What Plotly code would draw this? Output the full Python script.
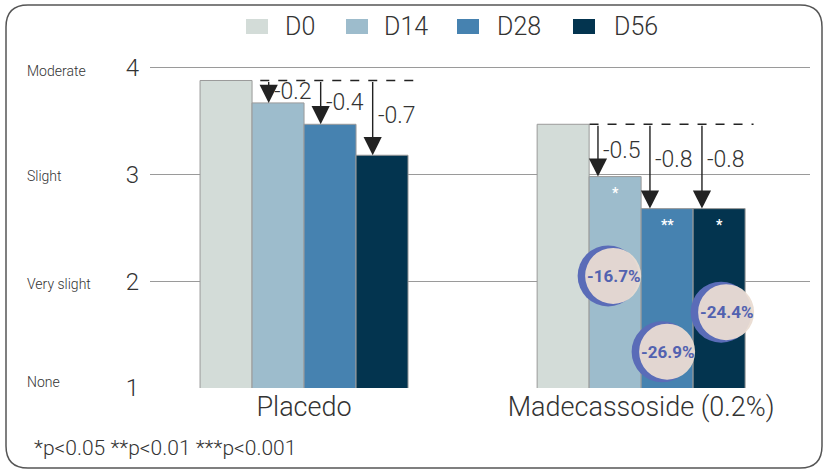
import plotly.graph_objects as go

# data
groups = ["Placedo", "Madecassoside (0.2%)"]
visits = ["D0", "D14", "D28", "D56"]
placedo = [3.88, 3.67, 3.47, 3.18]
madecassoside = [3.47, 2.98, 2.68, 2.68]
sig_marks = [["", "", "", ""], ["", "*", "**", "*"]]
pct_change = ["-16.7%", "-26.9%", "-24.4%"]
y_ticks = [1, 2, 3, 4]
scale_labels = ["None", "Very slight", "Slight", "Moderate"]

colors = ["#d3dcd8", "#9dbccc", "#4682b0", "#03344f"]
ink = "#333333"
font = "Roboto"

W, H = 826, 473
L, R, T, B = 150, 16, 57, 85
PW, PH = W - L - R, H - T - B
bargap = 0.383
bw = (1 - bargap) / len(visits)


def px(x):
    return (x - L) / PW


def py(y):
    return (H - B - y) / PH


def centre(g, i):
    return g + (i - (len(visits) - 1) / 2) * bw


series = [placedo, madecassoside]

fig = go.Figure()
for i, v in enumerate(visits):
    fig.add_bar(
        x=groups,
        y=[s[i] for s in series],
        name=v,
        marker=dict(color=colors[i], line=dict(color="#9a9a9a", width=1)),
        showlegend=False,
    )

# dashed baseline + arrows + change labels
arrow_frac = [0.32, 0.17]
for g, s in enumerate(series):
    base = s[0]
    ax_list = [centre(g, i) - bw / 2 + arrow_frac[g] * bw for i in range(1, 4)]
    fig.add_shape(type="line", xref="x", yref="y",
                  x0=ax_list[0] - 0.025, x1=centre(g, 3) + bw / 2 + 0.025,
                  y0=base, y1=base, line=dict(color="#222", width=1.3, dash="dash"))
    for k, i in enumerate(range(1, 4)):
        xa = ax_list[k]
        fig.add_annotation(x=xa, y=s[i], ax=xa, ay=base, xref="x", yref="y",
                           axref="x", ayref="y", text="", showarrow=True,
                           arrowhead=2, arrowsize=2.6, arrowwidth=1.4,
                           arrowcolor="#222")
        d = s[i] - base
        ly = max((base + s[i]) / 2, base - 0.33)
        fig.add_annotation(x=xa, y=ly, xref="x", yref="y", text=f"{d:.1f}",
                           showarrow=False, xanchor="left", xshift=3,
                           font=dict(family=font, size=23, color=ink, weight=300))
        if sig_marks[g][i]:
            fig.add_annotation(x=centre(g, i), y=s[i], xref="x", yref="y",
                               text=sig_marks[g][i], showarrow=False, yshift=-16,
                               font=dict(family=font, size=14, color="white", weight="bold"))

# percentage badges
badge_y = [2.05, 1.34, 1.71]
badge_dx = [-2, 0, 7]
for k, i in enumerate(range(1, 4)):
    cx = centre(1, i)
    dx = badge_dx[k]
    fig.add_shape(type="circle", xref="x", yref="y", xsizemode="pixel", ysizemode="pixel",
                  xanchor=cx, yanchor=badge_y[k],
                  x0=dx - 5 - 30.5, x1=dx - 5 + 30.5, y0=-30.5, y1=30.5,
                  fillcolor="#5a6cb8", line=dict(width=0))
    fig.add_shape(type="circle", xref="x", yref="y", xsizemode="pixel", ysizemode="pixel",
                  xanchor=cx, yanchor=badge_y[k],
                  x0=dx - 28, x1=dx + 28, y0=-28, y1=28,
                  fillcolor="#eadcd2", opacity=0.95, line=dict(width=0))
    fig.add_annotation(x=cx, y=badge_y[k], xref="x", yref="y", text=pct_change[k],
                       showarrow=False, xshift=dx,
                       font=dict(family=font, size=17, color="#5262b0", weight="bold"))

# severity labels on the left
scale_shift = [6, -3, -2, -3]
for t, lab, sh in zip(y_ticks, scale_labels, scale_shift):
    fig.add_annotation(x=px(25), y=t, xref="paper", yref="y", text=lab,
                       showarrow=False, xanchor="left", yshift=sh,
                       font=dict(family=font, size=14, color=ink, weight=300))

# legend drawn by hand
leg_box = [246, 346, 457, 573]
leg_text = [283, 382, 495, 612]
for i, v in enumerate(visits):
    fig.add_shape(type="rect", xref="paper", yref="paper",
                  x0=px(leg_box[i]), x1=px(leg_box[i] + 22), y0=py(19), y1=py(34),
                  fillcolor=colors[i], line=dict(width=0))
    fig.add_annotation(x=px(leg_text[i]), y=py(26.5), xref="paper", yref="paper",
                       text=v, showarrow=False, xanchor="left", yanchor="middle",
                       font=dict(family=font, size=25, color=ink, weight=300))

# footnote
fig.add_annotation(x=px(32), y=py(448), xref="paper", yref="paper",
                   text="*p<0.05 **p<0.01 ***p<0.001", showarrow=False,
                   xanchor="left", yanchor="middle",
                   font=dict(family=font, size=21, color=ink, weight=300))

# rounded frame
x0, y0, x1, y1, r = 6, 5, 822, 468, 22
pts = [("M", x0 + r, y0), ("L", x1 - r, y0), ("Q", x1, y0, x1, y0 + r),
       ("L", x1, y1 - r), ("Q", x1, y1, x1 - r, y1), ("L", x0 + r, y1),
       ("Q", x0, y1, x0, y1 - r), ("L", x0, y0 + r), ("Q", x0, y0, x0 + r, y0)]
path = ""
for p in pts:
    coords = p[1:]
    path += p[0] + " " + " ".join(
        f"{px(coords[j]):.5f},{py(coords[j + 1]):.5f}" for j in range(0, len(coords), 2)) + " "
fig.add_shape(type="path", xref="paper", yref="paper", path=path + "Z",
              line=dict(color="#555", width=1.5))

fig.update_layout(
    width=W, height=H,
    margin=dict(l=L, r=R, t=T, b=B),
    barmode="group", bargap=bargap, bargroupgap=0,
    plot_bgcolor="white", paper_bgcolor="white",
    font=dict(family=font, color=ink),
)
fig.update_xaxes(range=[-0.457, 1.501], showgrid=False, showline=False, ticks="",
                 tickfont=dict(family=font, size=27, color=ink, weight=300))
fig.update_yaxes(range=[1, 4.1], tickvals=y_ticks, showgrid=True, gridcolor="#9a9a9a",
                 gridwidth=1, zeroline=False, showline=False, ticks="",
                 ticklabelstandoff=10,
                 tickfont=dict(family=font, size=24, color=ink, weight=300))

# the page body has a default 8px margin; drop it so the figure fills the window
fig.write_html("out.html", config={"displayModeBar": False},
               post_script="document.body.style.margin='0';")
